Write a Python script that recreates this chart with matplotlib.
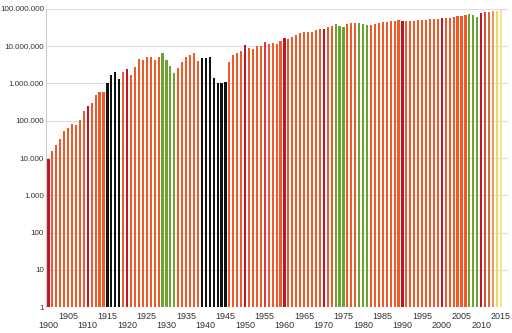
import numpy as np
import matplotlib.pyplot as plt
from matplotlib.ticker import FuncFormatter

plt.rcParams['font.family'] = ['Liberation Sans', 'DejaVu Sans']

# world motor vehicle production, 1900-2015
years = list(range(1900, 2016))
production = [
    9200, 15400, 22800, 32300, 53000, 62700, 81800, 75500, 105000, 183000,
    249000, 294000, 482000, 592000, 592000, 1010000, 1660000, 2040000, 1300000, 2040000,
    2400000, 1720000, 2830000, 4460000, 4200000, 5050000, 5250000, 4270000, 5250000, 6460000,
    4270000, 3010000, 1950000, 2610000, 3710000, 5050000, 5710000, 6460000, 3940000, 4750000,
    4800000, 5250000, 1410000, 1010000, 1010000, 1100000, 3850000, 5820000, 6460000, 7600000,
    10600000, 8980000, 8500000, 10400000, 10400000, 13300000, 11700000, 12500000, 11300000, 14100000,
    16300000, 15300000, 18100000, 20500000, 22200000, 24200000, 24600000, 23700000, 27900000, 29000000,
    29000000, 33600000, 35700000, 38800000, 35000000, 33600000, 38800000, 41200000, 42100000, 41200000,
    38800000, 38000000, 36500000, 40400000, 42900000, 44700000, 45700000, 46600000, 48600000, 49600000,
    48600000, 46600000, 47500000, 47500000, 49600000, 49600000, 51700000, 53900000, 52800000, 55000000,
    57300000, 56200000, 58500000, 61000000, 64900000, 66200000, 69000000, 71900000, 70500000, 62200000,
    76500000, 81300000, 84800000, 88300000, 90200000, 92000000,
]

war_years = [1915, 1916, 1917, 1918, 1939, 1940, 1941, 1942, 1943, 1944, 1945]
crisis_years = [1929, 1930, 1931, 1932, 1973, 1974, 1975, 1979, 1980, 1981, 2007, 2008, 2009]
decade_years = [1900, 1910, 1920, 1950, 1960, 1970, 1990, 2000, 2010]
recent_colors = {2011: '#cf4e34', 2012: '#d76a3c', 2013: '#e39a52', 2014: '#f3d36c', 2015: '#f7e78c'}

colors = []
for y in years:
    if y in war_years:
        colors.append('#111111')
    elif y in crisis_years:
        colors.append('#6aa534')
    elif y in decade_years:
        colors.append('#c3122c')
    elif y == 1955:
        colors.append('#e23448')
    elif y in recent_colors:
        colors.append(recent_colors[y])
    else:
        colors.append('#f05a28')

fig = plt.figure(figsize=(5.12, 3.33), dpi=100)
ax = fig.add_axes([0.09, 0.078, 0.902, 0.895])

ax.bar(years, np.array(production) - 1, bottom=1, width=0.55, color=colors, zorder=2)

ax.set_yscale('log')
ax.set_ylim(1, 1e8)
ax.set_xlim(1899.4, 2016.8)

ax.set_yticks([10 ** k for k in range(9)])
ax.yaxis.set_major_formatter(FuncFormatter(lambda v, p: f'{int(round(v)):,}'.replace(',', '.')))
ax.yaxis.set_minor_locator(plt.NullLocator())
ax.grid(axis='y', color='#dcdcdc', linewidth=0.8, zorder=0)

ax.set_xticks(range(1900, 2016, 10))
ax.set_xticks(range(1905, 2016, 10), minor=True)
ax.set_xticklabels([str(y) for y in range(1900, 2016, 10)])
ax.set_xticklabels([str(y) for y in range(1905, 2016, 10)], minor=True)
ax.tick_params(axis='x', which='major', length=0, pad=10, labelsize=6.5, colors='#333333')
ax.tick_params(axis='x', which='minor', length=0, pad=3.5, labelsize=6.5, colors='#333333')
ax.tick_params(axis='y', length=0, pad=1.5, labelsize=5.8, colors='#333333')

for side in ['top', 'right', 'bottom']:
    ax.spines[side].set_visible(False)
ax.spines['left'].set_color('#cccccc')

plt.savefig('out.png', dpi=100)
